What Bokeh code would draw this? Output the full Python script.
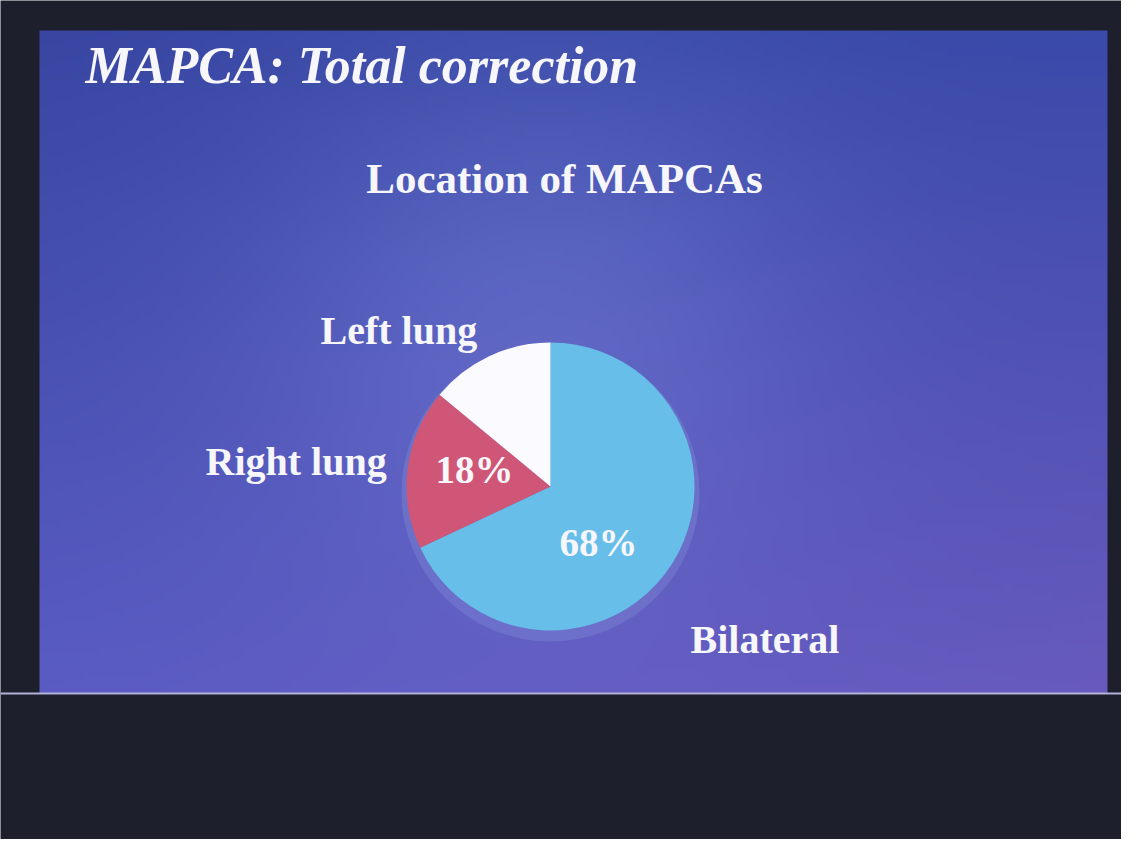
import numpy as np
from bokeh.plotting import figure
from bokeh.models import Range1d, ColumnDataSource
from bokeh.core.properties import value
from bokeh.embed import file_html
from bokeh.resources import INLINE

# ---- data ----
categories = ["Bilateral", "Right lung", "Left lung"]
percents = [68, 18, 14]
slice_colors = ["#66bee9", "#cf5677", "#fbfbff"]
pct_labels = ["68%", "18%", ""]
chart_title = "Location of MAPCAs"
slide_title = "MAPCA: Total correction"

W, H = 1121, 839
p = figure(width=W, height=H, output_backend="svg", toolbar_location=None,
           x_range=Range1d(0, W), y_range=Range1d(0, H), min_border=0)
p.axis.visible = False
p.grid.visible = False
p.outline_line_color = None
p.background_fill_color = "#1d1f2c"
p.border_fill_color = "#1d1f2c"

def px(x):
    return x - 8

def py(y):
    return 847 - y

# slide background gradient
sx0, sx1, sy0, sy1 = 47, 1115, 38, 701
nx, ny = 214, 133
xs = np.linspace(0, 1, nx)
ys = np.linspace(0, 1, ny)  # 0 = bottom
X, Y = np.meshgrid(xs, ys)
tl = np.array([56, 70, 162]); tr = np.array([58, 74, 170])
bl = np.array([90, 92, 196]); br = np.array([104, 90, 190])
top = tl[None, None, :] * (1 - X[..., None]) + tr[None, None, :] * X[..., None]
bot = bl[None, None, :] * (1 - X[..., None]) + br[None, None, :] * X[..., None]
col = bot * (1 - Y[..., None]) + top * Y[..., None]
# soft glow behind the pie
gx = (545 - sx0) / (sx1 - sx0); gy = (sy1 - 320) / (sy1 - sy0)
d = np.sqrt(((X - gx) * (sx1 - sx0)) ** 2 + ((Y - gy) * (sy1 - sy0)) ** 2)
glow = np.exp(-(d / 280.0) ** 2)
col = col + glow[..., None] * np.array([20, 22, 18])[None, None, :]
col = np.clip(col, 0, 255).astype(np.uint8)
img = np.empty((ny, nx), dtype=np.uint32)
view = img.view(dtype=np.uint8).reshape((ny, nx, 4))
view[..., 0] = col[..., 0]; view[..., 1] = col[..., 1]; view[..., 2] = col[..., 2]; view[..., 3] = 255
p.image_rgba(image=[img], x=px(sx0), y=py(sy1), dw=sx1 - sx0, dh=sy1 - sy0)

# bottom thin light line
p.segment(x0=[0], y0=[py(701)], x1=[W], y1=[py(701)], line_color="#b4b2d8", line_width=2)

# pie
cx, cy, r = px(558), py(494), 144
total = float(sum(percents))
cum = np.cumsum([0] + percents) / total
starts = np.pi / 2 - cum[:-1] * 2 * np.pi
ends = np.pi / 2 - cum[1:] * 2 * np.pi
src = ColumnDataSource(dict(cat=categories, val=percents, color=slice_colors,
                            start=starts, end=ends))
p.circle(x=[cx], y=[cy - 6], radius=r + 5, fill_color="#8fa2e0", fill_alpha=0.25, line_color=None)
p.wedge(x=cx, y=cy, radius=r, start_angle="start", end_angle="end", direction="clock",
        fill_color="color", line_color=None, source=src)

font = value("Liberation Serif")
# titles
p.text(x=[px(93)], y=[py(73)], text=[slide_title], text_font=font, text_font_style="bold italic",
       text_font_size="52px", text_color="#f6f6fb", text_baseline="middle", text_align="left")
p.text(x=[px(572)], y=[py(186)], text=[chart_title], text_font=font, text_font_style="bold",
       text_font_size="43px", text_color="#f6f6fb", text_baseline="middle", text_align="center")

# category labels
lab_x = [px(698), px(213), px(328)]
lab_y = [py(647), py(469), py(338)]
p.text(x=lab_x, y=lab_y, text=categories, text_font=font, text_font_style="bold",
       text_font_size="40px", text_color="#f6f6fb", text_baseline="middle", text_align="left")

# percentage labels
pct_x = [px(567), px(443)]
pct_y = [py(550), py(477)]
p.text(x=pct_x, y=pct_y, text=pct_labels[:2], text_font=font, text_font_style="bold",
       text_font_size="39px", text_color="#f6f6fb", text_baseline="middle", text_align="left")

open("out.html", "w").write(file_html(p, INLINE))
